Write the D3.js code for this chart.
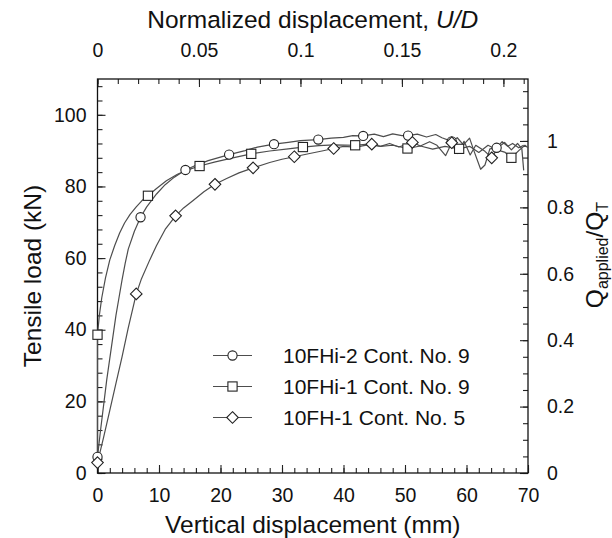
<!DOCTYPE html>
<html>
<head>
<meta charset="utf-8">
<script src="https://cdn.jsdelivr.net/npm/d3@7"></script>
<style>
  html, body { margin: 0; padding: 0; background: #fff; }
  svg { display: block; font-family: "Liberation Sans", Arial, sans-serif; }
</style>
</head>
<body>
<svg id="chart" width="612" height="538"></svg>
<script>
// ---------------- DATA ----------------
const seriesNames = ["10FHi-2 Cont. No. 9", "10FHi-1 Cont. No. 9", "10FH-1 Cont. No. 5"];
const seriesSymbols = ["circle", "square", "diamond"];

// 10FHi-2 (circles): [displacement mm, load kN]
const curveFHi2 = [[0,4.5],[0.5,12],[1,19],[1.5,26],[2,32],[2.5,38],[3,44],[3.5,49],[4,54],[4.5,58.5],[5,62.5],[6,67.5],[7,71.4],[8,74.3],[9.6,77.9],[11,80.5],[12.5,82.6],[14.3,84.6],[16,85.9],[18,87.2],[21.4,88.9],[24,90.0],[26,91.0],[28.7,91.8],[31,92.3],[33,92.8],[35.9,93.1],[38,93.5],[40,93.7],[41.5,94.2],[43.2,94.1],[45,94.6],[46.5,93.9],[48,94.7],[49.5,94.2],[50.5,94.2],[52,94.6],[53.5,93.8],[55,94.5],[56,93.6],[57.6,92.6],[58.5,93.6],[59.5,91.6],[60.5,93.5],[61.3,89.5],[62.3,84.8],[63,86.0],[63.8,90.5],[64.9,90.8],[65.8,92.5],[66.7,91.2],[67.5,92.0],[68.5,90.8],[69.3,91.5]];
const markersFHi2 = [[0,4.5],[7,71.4],[14.3,84.6],[21.4,88.9],[28.7,91.8],[35.9,93.1],[43.2,94.1],[50.5,94.2],[57.6,92.6],[64.9,90.8]];

// 10FHi-1 (squares)
const curveFHi1 = [[0,3.5],[0,38.6],[0.3,44],[0.7,49],[1.3,54.5],[2,59.5],[2.8,63.5],[3.6,67],[4.4,69.8],[5.3,72.2],[6.3,74.3],[7.2,76],[8.2,77.4],[9.5,79.3],[11.2,81.6],[13,83.4],[14.8,84.7],[16.6,85.7],[19,86.8],[22,88],[25,89.1],[28,89.9],[31,90.5],[33.4,91.0],[36,91.4],[38.5,91.6],[41.9,91.5],[44,91.8],[46,91.2],[48,91.5],[50.4,90.6],[52.5,91.3],[54.5,90.4],[56.5,91.2],[58.8,90.5],[60.5,91.2],[62,89.5],[63.5,91.5],[65,90.2],[66.3,89.5],[67.3,88.0],[68.5,90.0],[69.5,91.5],[70,90.8]];
const markersFHi1 = [[0,38.6],[8.2,77.4],[16.6,85.7],[25,89.1],[33.4,91.0],[41.9,91.5],[50.4,90.6],[58.8,90.5],[67.3,88.0]];

// 10FH-1 (diamonds)
const curveFH1 = [[0,2.9],[1,10],[2,17.5],[3,25],[4,32.5],[5,40.5],[6.3,50],[7.1,54],[8.5,59.5],[9.6,63.5],[11,68],[12.7,71.8],[14,74],[15.5,76],[17.3,78.5],[19.1,80.6],[21,82.2],[23,83.8],[25.3,85.2],[28,86.7],[30,87.6],[32,88.3],[34.5,89.2],[36.5,89.9],[38.4,90.6],[40,91.2],[42,91],[44.6,91.8],[46,91.2],[47.5,92.0],[49,91.0],[51.2,92.3],[52.5,91.3],[54,92.5],[55.2,91.5],[56.6,88.6],[57.6,92.2],[58.6,89.2],[59.6,92.6],[60.6,88.8],[61.5,91.5],[63,89.8],[64.1,88.0],[65.2,91.0],[66.2,92.3],[67.3,90.2],[68.3,92.0],[69,90.5],[69.3,84.5]];
const markersFH1 = [[0,2.9],[6.3,50],[12.7,71.8],[19.1,80.6],[25.3,85.2],[32,88.3],[38.4,90.6],[44.6,91.8],[51.2,92.3],[57.6,92.2],[64.1,88.0]];

// Axis tick values / labels
const xMajorTicks = [0,10,20,30,40,50,60,70];
const xMinorTicks = d3.range(0, 70.01, 2);
const yMajorTicks = [0,20,40,60,80,100];
const yMinorTicks = d3.range(0, 110, 4);
const topMajorTicks = [0,0.05,0.1,0.15,0.2];
const topTickLabels = ["0","0.05","0.1","0.15","0.2"];
const topMinorTicks = d3.range(0, 0.2125, 0.01);
const rightMajorTicks = [0,0.2,0.4,0.6,0.8,1.0];
const rightTickLabels = ["0","0.2","0.4","0.6","0.8","1"];
const rightMinorTicks = d3.range(0, 1.18, 0.05);

const xDomain = [0, 70];
const yDomain = [0, 110];
const QT = 92.7;      // kN, normalising load
const Dpile = 330;    // mm, normalising diameter

// ---------------- DRAW ----------------
const svg = d3.select("#chart");
const L = 97.5, R = 528, T = 79, B = 473;

const x = d3.scaleLinear(xDomain, [L, R]);
const y = d3.scaleLinear(yDomain, [B, T]);
const xt = d3.scaleLinear([0, xDomain[1] / Dpile], [L, R]);
const yr = d3.scaleLinear([0, yDomain[1] / QT], [B, T]);

const tickFont = "19.5px";
const titleFont = "24.5px";
const lineColor = "#4d4d4d";

function styleAxis(g) {
  g.select(".domain").remove();
  g.selectAll(".tick line").attr("stroke", "#222").attr("stroke-width", 1.1);
  g.selectAll("text").attr("font-size", tickFont).attr("fill", "#111")
    .attr("font-family", "'Liberation Sans', Arial, sans-serif");
}

// bottom
svg.append("g").attr("transform", `translate(0,${B})`)
  .call(d3.axisBottom(x).tickValues(xMinorTicks).tickSize(-5).tickFormat(""))
  .call(styleAxis);
svg.append("g").attr("transform", `translate(0,${B})`)
  .call(d3.axisBottom(x).tickValues(xMajorTicks).tickSize(-8).tickPadding(15).tickFormat(d3.format("d")))
  .call(styleAxis);

// top
svg.append("g").attr("transform", `translate(0,${T})`)
  .call(d3.axisTop(xt).tickValues(topMinorTicks).tickSize(-5).tickFormat(""))
  .call(styleAxis);
svg.append("g").attr("transform", `translate(0,${T})`)
  .call(d3.axisTop(xt).tickValues(topMajorTicks).tickSize(-8).tickPadding(22)
    .tickFormat((d, i) => topTickLabels[i]))
  .call(styleAxis);

// left
svg.append("g").attr("transform", `translate(${L},0)`)
  .call(d3.axisLeft(y).tickValues(yMinorTicks).tickSize(-5).tickFormat(""))
  .call(styleAxis);
svg.append("g").attr("transform", `translate(${L},0)`)
  .call(d3.axisLeft(y).tickValues(yMajorTicks).tickSize(-8).tickPadding(11).tickFormat(d3.format("d")))
  .call(styleAxis);

// right
svg.append("g").attr("transform", `translate(${R},0)`)
  .call(d3.axisRight(yr).tickValues(rightMinorTicks).tickSize(-5).tickFormat(""))
  .call(styleAxis);
svg.append("g").attr("transform", `translate(${R},0)`)
  .call(d3.axisRight(yr).tickValues(rightMajorTicks).tickSize(-8).tickPadding(19)
    .tickFormat((d, i) => rightTickLabels[i]))
  .call(styleAxis);

// frame
svg.append("rect").attr("x", L).attr("y", T).attr("width", R - L).attr("height", B - T)
  .attr("fill", "none").attr("stroke", "#111").attr("stroke-width", 1.3);

// curves
const line = d3.line().x(d => x(d[0])).y(d => y(d[1]));
const curves = [curveFHi2, curveFHi1, curveFH1];
const markers = [markersFHi2, markersFHi1, markersFH1];

const plot = svg.append("g");
curves.forEach(c => {
  plot.append("path").datum(c).attr("d", line)
    .attr("fill", "none").attr("stroke", lineColor).attr("stroke-width", 1.2)
    .attr("stroke-linejoin", "round");
});

function drawSymbol(g, type, cx, cy) {
  if (type === "circle") {
    g.append("circle").attr("cx", cx).attr("cy", cy).attr("r", 4.6);
  } else if (type === "square") {
    g.append("rect").attr("x", cx - 4.6).attr("y", cy - 4.6).attr("width", 9.2).attr("height", 9.2);
  } else {
    const s = 5.8;
    g.append("path").attr("d", `M${cx},${cy - s}L${cx + s},${cy}L${cx},${cy + s}L${cx - s},${cy}Z`);
  }
}

markers.forEach((m, i) => {
  const g = plot.append("g").attr("fill", "#fff").attr("stroke", "#222").attr("stroke-width", 1.1);
  m.forEach(p => drawSymbol(g, seriesSymbols[i], x(p[0]), y(p[1])));
});

// legend
const legendRows = [355.5, 386.5, 417.5];
seriesNames.forEach((name, i) => {
  const ly = legendRows[i];
  svg.append("line").attr("x1", 213).attr("x2", 252).attr("y1", ly).attr("y2", ly)
    .attr("stroke", lineColor).attr("stroke-width", 1.2);
  const g = svg.append("g").attr("fill", "#fff").attr("stroke", "#222").attr("stroke-width", 1.1);
  drawSymbol(g, seriesSymbols[i], 232.5, ly);
  svg.append("text").attr("x", 283).attr("y", ly + 7).attr("font-size", "21px")
    .attr("fill", "#111").text(name);
});

// axis titles
svg.append("text").attr("x", (L + R) / 2).attr("y", 533).attr("text-anchor", "middle")
  .attr("font-size", titleFont).attr("fill", "#111").text("Vertical displacement (mm)");

const topTitle = svg.append("text").attr("x", (L + R) / 2).attr("y", 28).attr("text-anchor", "middle")
  .attr("font-size", titleFont).attr("fill", "#111");
topTitle.append("tspan").text("Normalized displacement, ");
topTitle.append("tspan").attr("font-style", "italic").text("U/D");

svg.append("text").attr("transform", `translate(41,${(T + B) / 2}) rotate(-90)`)
  .attr("text-anchor", "middle").attr("font-size", titleFont).attr("fill", "#111")
  .text("Tensile load (kN)");

const rt = svg.append("text").attr("transform", `translate(603,255) rotate(-90)`)
  .attr("text-anchor", "middle").attr("font-size", titleFont).attr("fill", "#111");
rt.append("tspan").text("Q");
rt.append("tspan").attr("font-size", "16px").attr("dy", 5).text("applied");
rt.append("tspan").attr("dy", -5).text("/Q");
rt.append("tspan").attr("font-size", "16px").attr("dy", 5).text("T");
</script>
</body>
</html>
